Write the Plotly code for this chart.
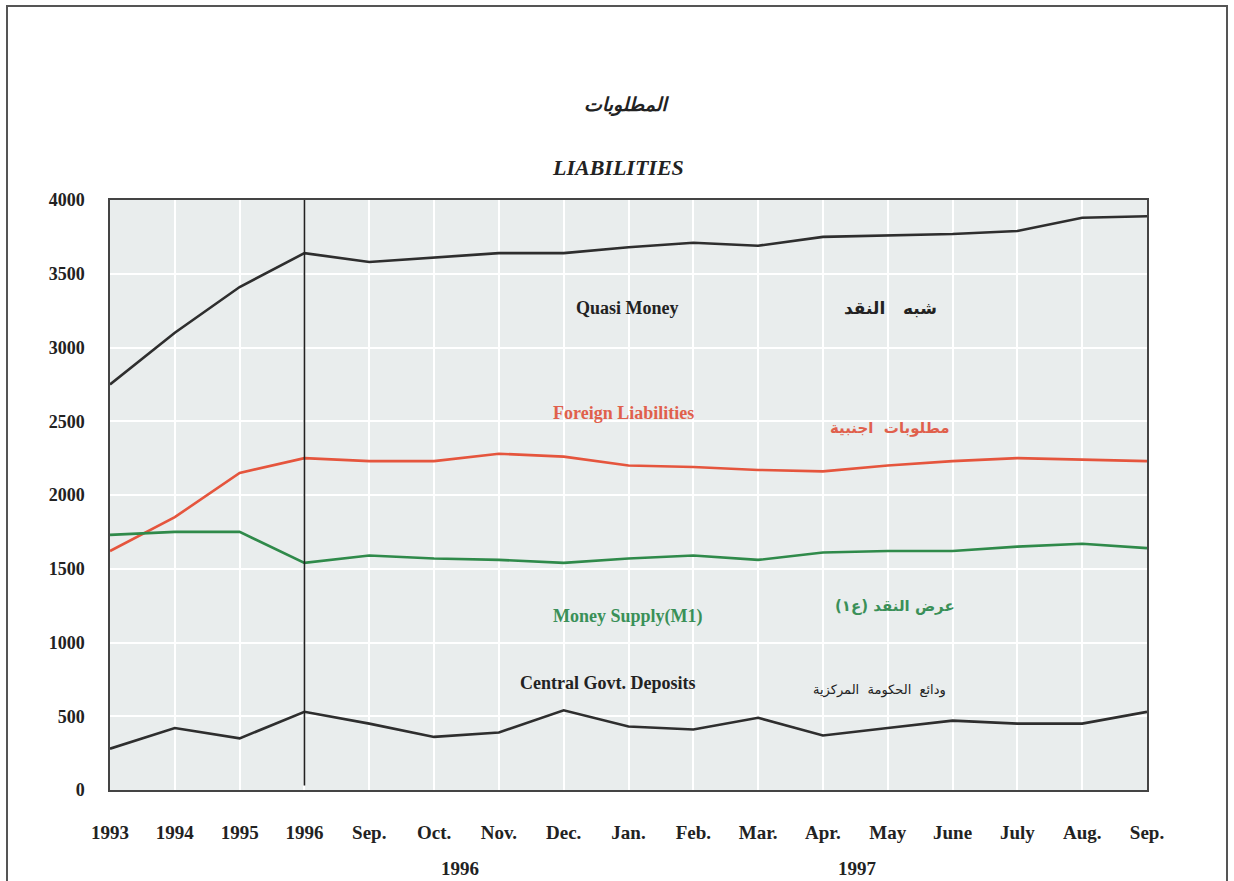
import plotly.graph_objects as go

categories = ["1993", "1994", "1995", "1996", "Sep.", "Oct.", "Nov.", "Dec.", "Jan.",
              "Feb.", "Mar.", "Apr.", "May", "June", "July", "Aug.", "Sep."]
quasi_money = [2750, 3100, 3410, 3640, 3580, 3610, 3640, 3640, 3680,
               3710, 3690, 3750, 3760, 3770, 3790, 3880, 3890]
foreign_liabilities = [1620, 1850, 2150, 2250, 2230, 2230, 2280, 2260, 2200,
                       2190, 2170, 2160, 2200, 2230, 2250, 2240, 2230]
money_supply = [1730, 1750, 1750, 1540, 1590, 1570, 1560, 1540, 1570,
                1590, 1560, 1610, 1620, 1620, 1650, 1670, 1640]
govt_deposits = [280, 420, 350, 530, 450, 360, 390, 540, 430,
                 410, 490, 370, 420, 470, 450, 450, 530]
y_ticks = [0, 500, 1000, 1500, 2000, 2500, 3000, 3500, 4000]

x = list(range(len(categories)))
serif = "Liberation Serif"
arabic = "DejaVu Sans"

fig = go.Figure()
series = [
    (quasi_money, "#2e2e2e"),
    (foreign_liabilities, "#e5553d"),
    (money_supply, "#2f8a4a"),
    (govt_deposits, "#2e2e2e"),
]
for vals, col in series:
    fig.add_trace(go.Scatter(x=x, y=vals, mode="lines",
                             line=dict(color=col, width=2.6), showlegend=False))

# divider between annual and monthly data
fig.add_shape(type="line", x0=3, x1=3, y0=30, y1=4000, xref="x", yref="y",
              line=dict(color="#222222", width=1.6))

labels = [
    (7.99, 3268, "<b>Quasi Money</b>", "#222222", serif, 18),
    (12.04, 3268, "<b>شبه   النقد</b>", "#222222", arabic, 17),
    (7.92, 2556, "<b>Foreign Liabilities</b>", "#e0604c", serif, 18),
    (12.04, 2454, "<b>مطلوبات  اجنبية</b>", "#e0604c", arabic, 15),
    (7.99, 1173, "<b>Money Supply(M1)</b>", "#3a9058", serif, 18),
    (12.11, 1248, "<b>عرض النقد (ع١)</b>", "#3a9058", arabic, 15),
    (7.67, 725, "<b>Central Govt. Deposits</b>", "#222222", serif, 18),
    (11.88, 678, "ودائع  الحكومة  المركزية", "#222222", arabic, 13),
]
for lx, ly, txt, col, fam, sz in labels:
    fig.add_annotation(x=lx, y=ly, xref="x", yref="y", text=txt,
                       showarrow=False, yanchor="middle",
                       font=dict(family=fam, size=sz, color=col))

# year groups under the month labels
for lx, txt in [(5.4, "1996"), (11.54, "1997")]:
    fig.add_annotation(x=lx, y=(790 - 868) / 590, xref="x", yref="paper",
                       text="<b>" + txt + "</b>", showarrow=False, yanchor="middle",
                       font=dict(family=serif, size=19, color="#222222"))

fig.add_annotation(x=(626 - 110) / 1037, y=(790 - 105) / 590, xref="paper", yref="paper",
                   text="<b><i>المطلوبات</i></b>", showarrow=False, yanchor="middle",
                   font=dict(family=arabic, size=19, color="#222222"))
fig.add_annotation(x=(618 - 110) / 1037, y=(790 - 168) / 590, xref="paper", yref="paper",
                   text="<b><i>LIABILITIES</i></b>", showarrow=False, yanchor="middle",
                   font=dict(family=serif, size=22, color="#222222"))

# page frame
fig.add_shape(type="rect", xref="paper", yref="paper",
              x0=(7 - 110) / 1037, x1=(1227 - 110) / 1037,
              y0=(790 - 886) / 590, y1=(790 - 6) / 590,
              line=dict(color="#555555", width=2))

fig.update_layout(
    width=1234, height=881,
    margin=dict(l=110, r=87, t=200, b=91),
    paper_bgcolor="white", plot_bgcolor="#e9eded",
    font=dict(family=serif, color="#222222"),
)
fig.update_xaxes(range=[0, 16], tickvals=x, ticktext=["<b>" + c + "</b>" for c in categories],
                 tickfont=dict(family=serif, size=19), ticks="outside", ticklen=24,
                 tickcolor="rgba(0,0,0,0)", showgrid=True, gridcolor="white", gridwidth=2,
                 showline=True, linecolor="#444444", linewidth=1.5, mirror=True, zeroline=False)
fig.update_yaxes(range=[0, 4000], tickvals=y_ticks, ticktext=["<b>" + str(v) + "</b>" for v in y_ticks],
                 tickfont=dict(family=serif, size=18), ticks="outside", ticklen=20,
                 tickcolor="rgba(0,0,0,0)", showgrid=True, gridcolor="white", gridwidth=2,
                 showline=True, linecolor="#444444", linewidth=1.5, mirror=True, zeroline=False)

fig.write_html("out.html", config={"displayModeBar": False},
               post_script="document.body.style.margin='0';")
